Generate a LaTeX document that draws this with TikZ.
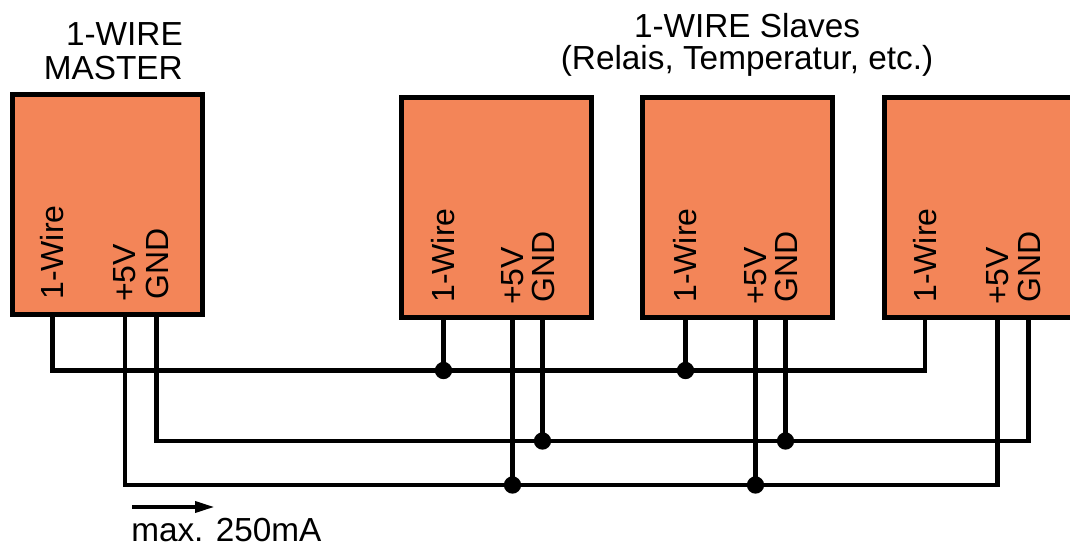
\documentclass[tikz,border=0pt]{standalone}
\usepackage{fontspec}
\setmainfont{Liberation Sans}
\usetikzlibrary{arrows.meta}

\definecolor{modorange}{RGB}{243,133,88}

\tikzset{
  module/.style={draw=black, line width=3.75pt, fill=modorange, inner sep=0pt,
    minimum width=142.5pt, minimum height=165pt},
  pinlabel/.style={rotate=90, anchor=west, inner sep=0pt,
    font=\fontsize{24pt}{26pt}\selectfont},
  wire/.style={line width=3.4pt},
  junction/.style={circle, fill=black, inner sep=0pt, minimum size=13pt},
  caption/.style={inner sep=0pt, font=\fontsize{25pt}{25.5pt}\selectfont}
}

\begin{document}
\begin{tikzpicture}[x=0.75pt, y=-0.75pt]
\useasboundingbox (0,0) rectangle (1070,548);
\clip (0,0) rectangle (1070,548);

% Titles.
\node[caption, align=right, anchor=base east] (mastertitle) at (183,80) {1-WIRE\\MASTER};
\node[caption, align=center, anchor=base, font=\fontsize{25pt}{24pt}\selectfont]
  (slavetitle) at (747,70) {1-WIRE Slaves\\(Relais, Temperatur, etc.)};

% Modules.
\node[module] (master) at (107.5,205) {};
\node[module] (slaveA) at (496.5,207.5) {};
\node[module] (slaveB) at (737.5,207.5) {};
\node[module] (slaveC) at (979.5,207.5) {};

% Pins.
\coordinate (mw) at (52.5,315);
\coordinate (mv) at (125,315);
\coordinate (mg) at (156.5,315);

\coordinate (aw) at (443.5,317.5);
\coordinate (av) at (512.5,317.5);
\coordinate (ag) at (542.5,317.5);

\coordinate (bw) at (685.5,317.5);
\coordinate (bv) at (755.5,317.5);
\coordinate (bg) at (785.5,317.5);

\coordinate (cw) at (925,317.5);
\coordinate (cv) at (997.5,317.5);
\coordinate (cg) at (1028.5,317.5);

% Pin labels.
\node[pinlabel] (mwl) at (52.5,300) {1-Wire};
\node[pinlabel] (mvl) at (125,302) {+5V};
\node[pinlabel] (mgl) at (157.5,300) {GND};

\node[pinlabel] (awl) at (443.5,303) {1-Wire};
\node[pinlabel] (avl) at (512.5,305) {+5V};
\node[pinlabel] (agl) at (543.5,303) {GND};

\node[pinlabel] (bwl) at (685.5,303) {1-Wire};
\node[pinlabel] (bvl) at (755.5,305) {+5V};
\node[pinlabel] (bgl) at (786.5,303) {GND};

\node[pinlabel] (cwl) at (925,303) {1-Wire};
\node[pinlabel] (cvl) at (997.5,305) {+5V};
\node[pinlabel] (cgl) at (1029.5,303) {GND};

% Bus junctions.
\coordinate (jwA) at (443.5,370.5);
\coordinate (jwB) at (685.5,370.5);
\coordinate (jwC) at (925,370.5);

\coordinate (jgA) at (542.5,441);
\coordinate (jgB) at (785.5,441);
\coordinate (jgC) at (1028.5,441);

\coordinate (jvA) at (512.5,485);
\coordinate (jvB) at (755.5,485);
\coordinate (jvC) at (997.5,485);

% 1-Wire bus.
\draw[wire] (mw) |- (jwC) -- (cw);
\draw[wire] (aw) -- (jwA);
\draw[wire] (bw) -- (jwB);

% GND bus.
\draw[wire] (mg) |- (jgC) -- (cg);
\draw[wire] (ag) -- (jgA);
\draw[wire] (bg) -- (jgB);

% +5V bus.
\draw[wire] (mv) |- (jvC) -- (cv);
\draw[wire] (av) -- (jvA);
\draw[wire] (bv) -- (jvB);

% Dots.
\node[junction] (dwA) at (jwA) {};
\node[junction] (dwB) at (jwB) {};
\node[junction] (dgA) at (jgA) {};
\node[junction] (dgB) at (jgB) {};
\node[junction] (dvA) at (jvA) {};
\node[junction] (dvB) at (jvB) {};

% Current arrow.
\coordinate (ia) at (132,507);
\coordinate (ib) at (215,507);
\draw[line width=3.2pt, -{Triangle[length=15pt, width=8pt]}] (ia) -- (ib);
\node[caption, anchor=base west] (imax) at (131,541) {max. 250mA};
\end{tikzpicture}
\end{document}
